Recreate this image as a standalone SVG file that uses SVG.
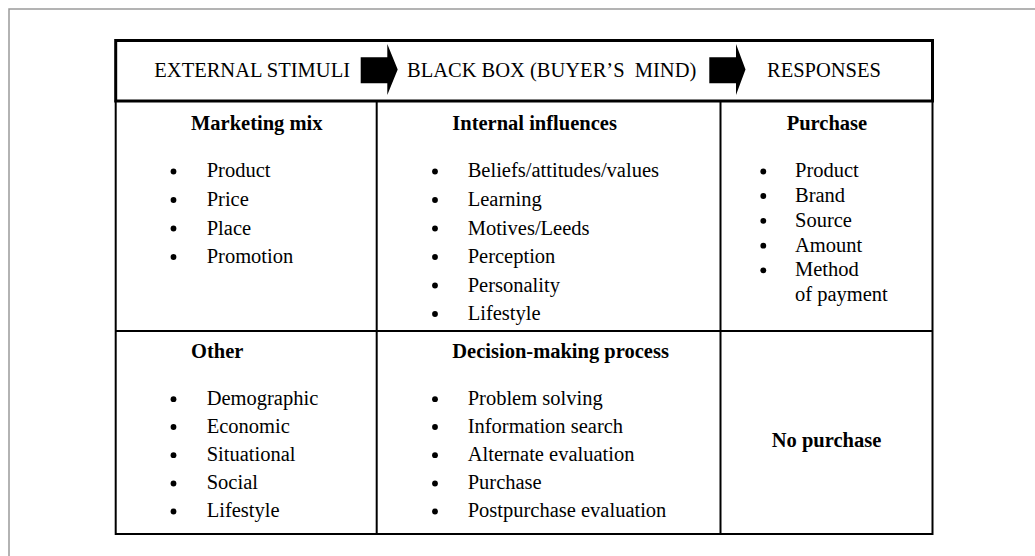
<svg xmlns="http://www.w3.org/2000/svg" width="1035" height="556" viewBox="0 0 1035 556">
<style>
text{font-family:"Liberation Serif","Times New Roman",serif;font-size:20.5px;fill:#000}
.h{font-weight:bold}
.frame{fill:none;stroke:#9a9a9a;stroke-width:1.5}
.hdr{fill:#fff;stroke:#000;stroke-width:3}
.grid{fill:none;stroke:#000;stroke-width:2}
.arrow{fill:#000}
.b{fill:#000}
</style>
<defs>
<circle id="dot" r="2.9"/>
</defs>
<rect width="1035" height="556" fill="#fff"/>
<path class="frame" d="M9,556 V9 H1035"/>

<g id="table-grid">
<rect class="grid" x="115.7" y="101" width="816.8" height="433"/>
<line class="grid" x1="115.7" y1="331" x2="932.5" y2="331"/>
<line class="grid" x1="376.7" y1="101" x2="376.7" y2="534"/>
<line class="grid" x1="720.5" y1="101" x2="720.5" y2="534"/>
</g>

<g id="header">
<rect class="hdr" x="115.7" y="40.5" width="816.8" height="60.5"/>
<text x="350" y="77" text-anchor="end">EXTERNAL STIMULI</text>
<text x="407" y="77" xml:space="preserve">BLACK BOX (BUYER’S  MIND)</text>
<text x="767" y="77">RESPONSES</text>
</g>

<g id="connectors">
<polygon class="arrow" points="360.7,57.3 387.3,57.3 387.3,44 397.7,69.5 387.3,95 387.3,83.3 360.7,83.3"/>
<polygon class="arrow" points="709.3,57.3 736,57.3 736,44 745.5,69.5 736,95 736,83.3 709.3,83.3"/>
</g>

<g id="marketing-mix">
<text class="h" x="191" y="130">Marketing mix</text>
<g class="b"><use href="#dot" x="173.5" y="171.5"/><use href="#dot" x="173.5" y="200"/><use href="#dot" x="173.5" y="228.5"/><use href="#dot" x="173.5" y="257"/></g>
<text x="206.7" y="177.3">Product</text>
<text x="206.7" y="206">Price</text>
<text x="206.7" y="234.5">Place</text>
<text x="206.7" y="263">Promotion</text>
</g>

<g id="internal-influences">
<text class="h" x="452.3" y="130">Internal influences</text>
<g class="b"><use href="#dot" x="435" y="171.5"/><use href="#dot" x="435" y="200"/><use href="#dot" x="435" y="228.5"/><use href="#dot" x="435" y="257"/><use href="#dot" x="435" y="285.5"/><use href="#dot" x="435" y="314"/></g>
<text x="467.7" y="177.3">Beliefs/attitudes/values</text>
<text x="467.7" y="206">Learning</text>
<text x="467.7" y="234.5">Motives/Leeds</text>
<text x="467.7" y="263">Perception</text>
<text x="467.7" y="291.5">Personality</text>
<text x="467.7" y="320">Lifestyle</text>
</g>

<g id="purchase">
<text class="h" x="786.7" y="130">Purchase</text>
<g class="b"><use href="#dot" x="763.3" y="171.5"/><use href="#dot" x="763.3" y="196"/><use href="#dot" x="763.3" y="220.8"/><use href="#dot" x="763.3" y="245.7"/><use href="#dot" x="763.3" y="270.3"/></g>
<text x="795" y="177.3">Product</text>
<text x="795" y="201.8">Brand</text>
<text x="795" y="226.6">Source</text>
<text x="795" y="251.5">Amount</text>
<text x="795" y="276.1">Method</text>
<text x="795" y="300.5">of payment</text>
</g>

<g id="other">
<text class="h" x="191" y="358.3">Other</text>
<g class="b"><use href="#dot" x="173.5" y="399.2"/><use href="#dot" x="173.5" y="427"/><use href="#dot" x="173.5" y="455.2"/><use href="#dot" x="173.5" y="483.5"/><use href="#dot" x="173.5" y="511.5"/></g>
<text x="206.7" y="405">Demographic</text>
<text x="206.7" y="432.8">Economic</text>
<text x="206.7" y="461">Situational</text>
<text x="206.7" y="489.3">Social</text>
<text x="206.7" y="517.3">Lifestyle</text>
</g>

<g id="decision-making">
<text class="h" x="452.3" y="358.3">Decision-making process</text>
<g class="b"><use href="#dot" x="435" y="399.2"/><use href="#dot" x="435" y="427"/><use href="#dot" x="435" y="455.2"/><use href="#dot" x="435" y="483.5"/><use href="#dot" x="435" y="511.5"/></g>
<text x="467.7" y="405">Problem solving</text>
<text x="467.7" y="432.8">Information search</text>
<text x="467.7" y="461">Alternate evaluation</text>
<text x="467.7" y="489.3">Purchase</text>
<text x="467.7" y="517.3">Postpurchase evaluation</text>
</g>

<g id="no-purchase">
<text class="h" x="826.5" y="447" text-anchor="middle">No purchase</text>
</g>
</svg>
